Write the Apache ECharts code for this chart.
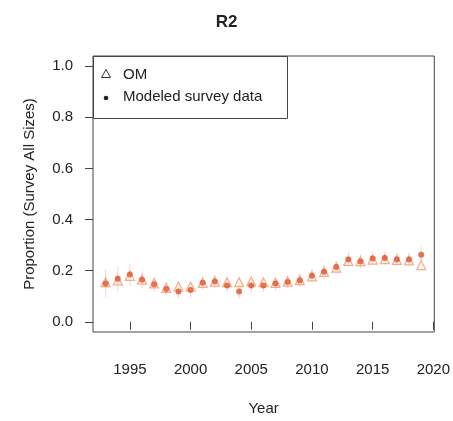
<!DOCTYPE html>
<html>
<head>
<meta charset="utf-8">
<script src="https://cdn.jsdelivr.net/npm/echarts@6/dist/echarts.min.js"></script>
<style>
  html, body { margin: 0; padding: 0; background: #fff; }
  #chart { width: 453px; height: 421px; }
</style>
</head>
<body>
<div id="chart"></div>
<script>
// Survey proportion, region R2
const years = [1993,1994,1995,1996,1997,1998,1999,2000,2001,2002,2003,2004,2005,2006,2007,2008,2009,2010,2011,2012,2013,2014,2015,2016,2017,2018,2019];
const omValues = [0.155,0.162,0.180,0.165,0.150,0.133,0.138,0.138,0.152,0.157,0.155,0.155,0.158,0.155,0.152,0.157,0.163,0.178,0.195,0.212,0.238,0.237,0.243,0.245,0.242,0.240,0.222];
const modeledValues = [0.150,0.168,0.185,0.164,0.147,0.128,0.118,0.124,0.153,0.158,0.142,0.118,0.142,0.142,0.150,0.156,0.162,0.180,0.196,0.214,0.244,0.236,0.248,0.250,0.244,0.244,0.262];
const modeledLow = [0.095,0.120,0.140,0.130,0.118,0.100,0.092,0.097,0.125,0.130,0.115,0.092,0.115,0.116,0.124,0.130,0.136,0.153,0.170,0.188,0.216,0.210,0.222,0.224,0.218,0.218,0.230];
const modeledHigh = [0.205,0.215,0.225,0.198,0.176,0.156,0.144,0.151,0.181,0.186,0.169,0.144,0.169,0.168,0.176,0.182,0.188,0.207,0.222,0.240,0.272,0.262,0.274,0.276,0.270,0.270,0.294];
const xTicks = [1995, 2000, 2005, 2010, 2015, 2020];
const yTicks = [0, 0.2, 0.4, 0.6, 0.8, 1.0];

const chart = echarts.init(document.getElementById('chart'), null, { renderer: 'canvas' });
const FONT = 'Liberation Sans, Arial, sans-serif';
const TXT = '#222';

const option = {
  animation: false,
  backgroundColor: '#fff',
  title: {
    text: 'R2', left: 'center', top: 9,
    textStyle: { fontFamily: FONT, fontSize: 17, fontWeight: 'bold', color: TXT }
  },
  grid: {
    left: 93, top: 56, width: 342, height: 283,
    show: true, borderColor: '#444', borderWidth: 1, backgroundColor: 'transparent'
  },
  xAxis: {
    type: 'value', min: 1991.96, max: 2020.08,
    name: 'Year', nameLocation: 'middle', nameGap: 69,
    nameTextStyle: { fontFamily: FONT, fontSize: 15, color: TXT },
    axisLine: { show: false },
    axisTick: { show: true, length: 8, customValues: xTicks, lineStyle: { color: '#444' } },
    axisLabel: { customValues: xTicks, margin: 30, fontFamily: FONT, fontSize: 15, color: TXT,
      formatter: v => String(Math.round(v)) },
    splitLine: { show: false }
  },
  yAxis: {
    type: 'value', min: -0.04, max: 1.04,
    name: 'Proportion (Survey All Sizes)', nameLocation: 'middle', nameGap: 56,
    nameTextStyle: { fontFamily: FONT, fontSize: 15, color: TXT },
    axisLine: { show: false },
    axisTick: { show: true, length: 8, customValues: yTicks, lineStyle: { color: '#444' } },
    axisLabel: { customValues: yTicks, margin: 20, fontFamily: FONT, fontSize: 15, color: TXT,
      formatter: v => v.toFixed(1) },
    splitLine: { show: false }
  },
  series: [
    {
      name: 'interval', type: 'custom', z: 1,
      data: years.map((y, i) => [y, modeledLow[i], modeledHigh[i]]),
      renderItem: function (params, api) {
        const p0 = api.coord([api.value(0), api.value(1)]);
        const p1 = api.coord([api.value(0), api.value(2)]);
        return { type: 'line', shape: { x1: p0[0], y1: p0[1], x2: p1[0], y2: p1[1] },
          style: { stroke: '#f9d2c2', lineWidth: 1 } };
      }
    },
    {
      name: 'OM', type: 'scatter', z: 2,
      symbol: 'triangle', symbolSize: 9,
      itemStyle: { color: 'rgba(255,240,232,0.7)', borderColor: '#f39a72', borderWidth: 1.2 },
      data: years.map((y, i) => [y, omValues[i]])
    },
    {
      name: 'Modeled survey data', type: 'scatter', z: 3,
      symbol: 'circle', symbolSize: 6,
      itemStyle: { color: '#e0532a' },
      data: years.map((y, i) => [y, modeledValues[i]])
    }
  ],
  graphic: [
    { type: 'rect', left: 93, top: 56, shape: { width: 194, height: 62 },
      style: { fill: '#fff', stroke: '#444', lineWidth: 1 }, z: 10 },
    { type: 'polygon', z: 11,
      shape: { points: [[106, 69.5], [101.5, 77.5], [110.5, 77.5]] },
      style: { fill: 'none', stroke: '#333', lineWidth: 1 } },
    { type: 'circle', z: 11, shape: { cx: 106, cy: 98, r: 2.3 }, style: { fill: '#222' } },
    { type: 'text', z: 11, left: 123, top: 67,
      style: { text: 'OM', fontFamily: FONT, fontSize: 15, fill: TXT } },
    { type: 'text', z: 11, left: 123, top: 89,
      style: { text: 'Modeled survey data', fontFamily: FONT, fontSize: 15, fill: TXT } }
  ]
};
chart.setOption(option);
</script>
</body>
</html>
